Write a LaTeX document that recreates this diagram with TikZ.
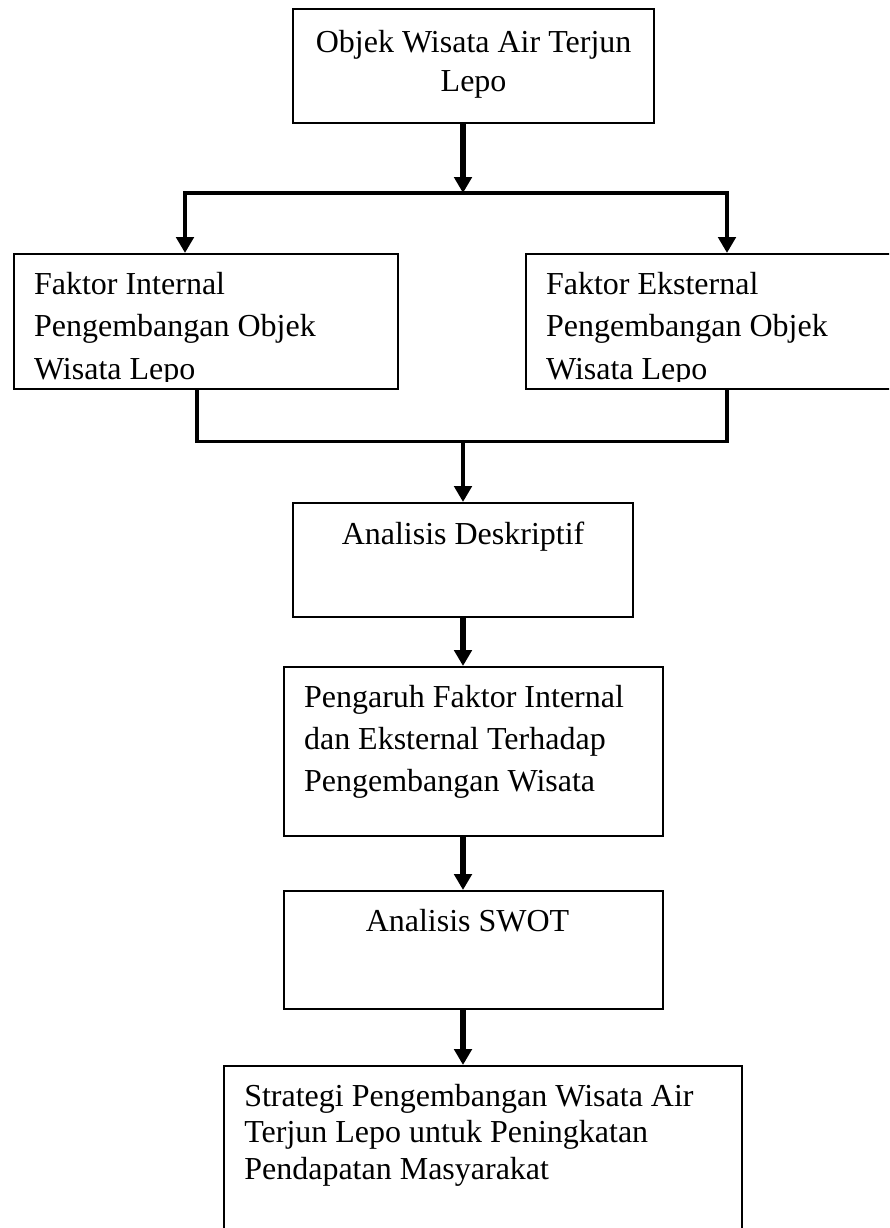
\documentclass[tikz,border=0pt]{standalone}
\usepackage{fontspec}
\setmainfont{Liberation Serif}
\usetikzlibrary{arrows.meta}

% width, height, baselineskip, top gap, text
\newcommand{\boxtext}[5]{%
  \begin{minipage}[t][#2][t]{#1}%
    \fontsize{12pt}{#3}\selectfont
    \vspace*{#4}#5\par
  \end{minipage}%
}

\begin{document}
\begin{tikzpicture}[
    x = 0.375pt, y = -0.375pt,
    >={Triangle[length=6pt, width=6.5pt]},
    box/.style = {draw, rectangle, line width=0.8pt, inner sep=0pt, anchor=north west},
    main/.style = {line width=2.6pt, ->},
    branch/.style = {line width=1.5pt},
    joint/.style = {line width=1.25pt},
  ]
  \useasboundingbox (0,0) rectangle (889,1228);
  \clip (0,0) rectangle (889,1228);

  \coordinate (split) at (463,193);
  \coordinate (lsplit) at (185,193);
  \coordinate (rsplit) at (727,193);
  \coordinate (lmerge) at (197,441.5);
  \coordinate (rmerge) at (727,441.5);
  \coordinate (merge) at (463,441.5);

  \node[box] (objek) at (292,8)
    {\boxtext{135.4pt}{42.75pt}{14.6pt}{7.9pt}{\centering Objek Wisata Air Terjun\\ Lepo}};

  \node[box] (fint) at (13,253)
    {\boxtext{144pt}{50.6pt}{15.9pt}{6.8pt}{\raggedright\leftskip=7.5pt
      Faktor Internal\\ Pengembangan Objek\\ Wisata Lepo}};
  \node[box] (fext) at (525,253)
    {\boxtext{142.5pt}{50.6pt}{15.9pt}{6.8pt}{\raggedright\leftskip=7.5pt
      Faktor Eksternal\\ Pengembangan Objek\\ Wisata Lepo}};
  % text is cut off at the box bottom
  \fill[white] ([xshift=1pt, yshift=0.8pt]fint.south west) rectangle ([xshift=-1pt, yshift=3.2pt]fint.south east);
  \fill[white] ([xshift=1pt, yshift=0.8pt]fext.south west) rectangle ([xshift=-1pt, yshift=3.2pt]fext.south east);

  \node[box] (desk) at (292,502)
    {\boxtext{127.5pt}{42.75pt}{15pt}{7.2pt}{\centering Analisis Deskriptif}};

  \node[box] (pengaruh) at (283,666)
    {\boxtext{142.1pt}{63.4pt}{15.75pt}{6.8pt}{\raggedright\leftskip=7.5pt
      Pengaruh Faktor Internal\\ dan Eksternal Terhadap\\ Pengembangan Wisata}};

  \node[box] (swot) at (283,890)
    {\boxtext{142.1pt}{44.25pt}{15pt}{6.9pt}{\centering\hspace*{-4.5pt}Analisis SWOT}};

  \node[box] (strategi) at (222.7,1065)
    {\boxtext{194.25pt}{67.5pt}{13.7pt}{6.8pt}{\raggedright\leftskip=7.7pt
      Strategi Pengembangan Wisata Air\\ Terjun Lepo untuk Peningkatan\\ Pendapatan Masyarakat}};

  \draw[main] (objek.south -| split) -- (split);
  \draw[branch, ->] (split) -| (fint.north -| lsplit);
  \draw[branch, ->] (split) -| (fext.north -| rsplit);
  \draw[joint] (fint.south -| lmerge) -- (lmerge) -- (rmerge) -- (fext.south -| rmerge);
  \draw[branch, ->] (merge) -- (merge |- desk.north);
  \draw[main] (desk.south -| merge) -- (merge |- pengaruh.north);
  \draw[main] (pengaruh.south -| merge) -- (merge |- swot.north);
  \draw[main] (swot.south -| merge) -- (merge |- strategi.north);
\end{tikzpicture}
\end{document}
